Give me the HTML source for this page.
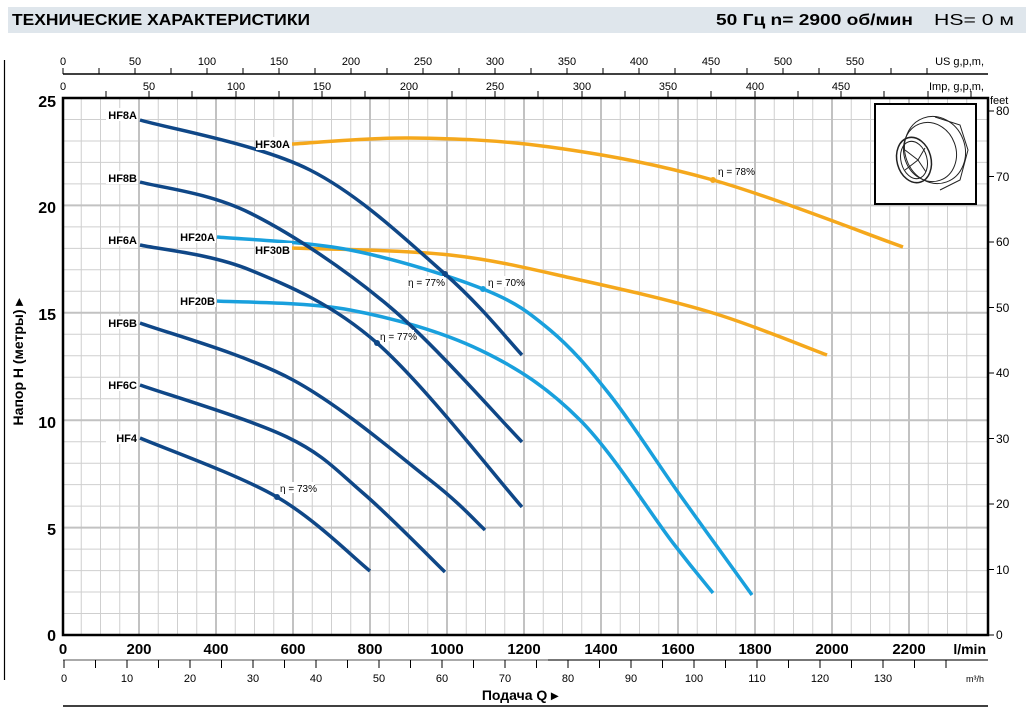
<!DOCTYPE html>
<html><head><meta charset="utf-8"><style>
html,body{margin:0;padding:0;background:#fff}
svg{display:block}
text{font-family:"Liberation Sans",Arial,sans-serif}
</style></head><body>
<svg id="ch" width="1035" height="707" viewBox="0 0 1035 707" xmlns="http://www.w3.org/2000/svg">
<rect x="8" y="7" width="1018" height="26" fill="#dfe6ec"/>
<text x="12" y="25" font-size="16" font-weight="bold" textLength="298" lengthAdjust="spacingAndGlyphs">ТЕХНИЧЕСКИЕ ХАРАКТЕРИСТИКИ</text>
<text x="716" y="25" font-size="16" font-weight="bold" textLength="197" lengthAdjust="spacingAndGlyphs">50 Гц   n= 2900  об/мин</text>
<text x="934" y="25" font-size="16" textLength="80" lengthAdjust="spacingAndGlyphs">HS= 0 м</text>

<line x1="4.5" y1="60" x2="4.5" y2="680" stroke="#000" stroke-width="1.2"/>

<path fill="none" stroke="#cfcfcf" stroke-width="1" d="M81.25 98V635M100.5 98V635M119.75 98V635M158.25 98V635M177.5 98V635M196.75 98V635M235.25 98V635M254.5 98V635M273.75 98V635M312.25 98V635M331.5 98V635M350.75 98V635M389.25 98V635M408.5 98V635M427.75 98V635M466.25 98V635M485.5 98V635M504.75 98V635M543.25 98V635M562.5 98V635M581.75 98V635M620.25 98V635M639.5 98V635M658.75 98V635M697.25 98V635M716.5 98V635M735.75 98V635M774.25 98V635M793.5 98V635M812.75 98V635M851.25 98V635M870.5 98V635M889.75 98V635M928.25 98V635M947.5 98V635M966.75 98V635
M62 613.5H988M62 592H988M62 570.6H988M62 549.1H988M62 506.1H988M62 484.6H988M62 463.2H988M62 441.7H988M62 398.7H988M62 377.2H988M62 355.8H988M62 334.3H988M62 291.3H988M62 269.8H988M62 248.4H988M62 226.9H988M62 183.9H988M62 162.4H988M62 141H988M62 119.5H988"/>
<path fill="none" stroke="#c2c2c2" stroke-width="2" d="M139 98V635M216 98V635M293 98V635M370 98V635M447 98V635M524 98V635M601 98V635M678 98V635M755 98V635M832 98V635M909 98V635M62 527.6H988M62 420.2H988M62 312.8H988M62 205.4H988"/>
<rect x="63" y="98" width="925" height="537" fill="none" stroke="#000" stroke-width="2.5"/>

<line x1="63" y1="74" x2="988" y2="74" stroke="#000" stroke-width="1.5"/>
<path stroke="#000" stroke-width="1" d="M63 68V74M99 68V74M135 68V74M171 68V74M207 68V74M243 68V74M279 68V74M315 68V74M351 68V74M387 68V74M423 68V74M459 68V74M495 68V74M531 68V74M567 68V74M603 68V74M639 68V74M675 68V74M711 68V74M747 68V74M783 68V74M819 68V74M855 68V74M891 68V74M927 68V74"/>
<g font-size="11" text-anchor="middle">
<text x="63" y="65">0</text><text x="135" y="65">50</text><text x="207" y="65">100</text><text x="279" y="65">150</text><text x="351" y="65">200</text><text x="423" y="65">250</text><text x="495" y="65">300</text><text x="567" y="65">350</text><text x="639" y="65">400</text><text x="711" y="65">450</text><text x="783" y="65">500</text><text x="855" y="65">550</text>
<text x="63" y="90">0</text><text x="149" y="90">50</text><text x="236" y="90">100</text><text x="322" y="90">150</text><text x="409" y="90">200</text><text x="495" y="90">250</text><text x="582" y="90">300</text><text x="668" y="90">350</text><text x="755" y="90">400</text><text x="841" y="90">450</text>
</g>
<text x="984" y="65" font-size="11" text-anchor="end">US g,p,m,</text>
<text x="984" y="90" font-size="11" text-anchor="end">Imp, g,p,m,</text>
<path stroke="#000" stroke-width="1" d="M106 91V98M149 91V98M192 91V98M236 91V98M279 91V98M322 91V98M365 91V98M409 91V98M452 91V98M495 91V98M538 91V98M582 91V98M625 91V98M668 91V98M711 91V98M755 91V98M798 91V98M841 91V98M884 91V98M928 91V98M971 91V98"/>

<g font-size="16" font-weight="bold" text-anchor="end">
<text x="56" y="107">25</text><text x="56" y="213">20</text><text x="56" y="320">15</text><text x="56" y="428">10</text><text x="56" y="535">5</text><text x="56" y="641">0</text>
</g>
<text transform="translate(23,362) rotate(-90)" font-size="14" font-weight="bold" text-anchor="middle">Напор H (метры) ▸</text>

<path stroke="#000" stroke-width="1" d="M988 635H994M988 569.5H994M988 504H994M988 438.5H994M988 373H994M988 307.5H994M988 242H994M988 176.5H994M988 111H994"/>
<g font-size="12">
<text x="996" y="639">0</text><text x="996" y="574">10</text><text x="996" y="508">20</text><text x="996" y="443">30</text><text x="996" y="377">40</text><text x="996" y="312">50</text><text x="996" y="246">60</text><text x="996" y="181">70</text><text x="996" y="115">80</text>
</g>
<text x="990" y="104" font-size="11">feet</text>

<g font-size="15" font-weight="bold" text-anchor="middle">
<text x="63" y="654">0</text><text x="139" y="654">200</text><text x="216" y="654">400</text><text x="293" y="654">600</text><text x="370" y="654">800</text><text x="447" y="654">1000</text><text x="524" y="654">1200</text><text x="601" y="654">1400</text><text x="678" y="654">1600</text><text x="755" y="654">1800</text><text x="832" y="654">2000</text><text x="909" y="654">2200</text>
</g>
<text x="986" y="654" font-size="14" font-weight="bold" text-anchor="end">l/min</text>

<line x1="63" y1="660" x2="548" y2="660" stroke="#aaa" stroke-width="2"/>
<line x1="548" y1="660" x2="988" y2="660" stroke="#777" stroke-width="2"/>
<path stroke="#000" stroke-width="1" d="M64 660V668M95.5 660V668M127 660V668M158.5 660V668M190 660V668M221.5 660V668M253 660V668M284.5 660V668M316 660V668M347.5 660V668M379 660V668M410.5 660V668M442 660V668M473.5 660V668M505 660V668M536.5 660V668M568 660V668M599.5 660V668M631 660V668M662.5 660V668M694 660V668M725.5 660V668M757 660V668M788.5 660V668M820 660V668M851.5 660V668M883 660V668M914.5 660V668M946 660V668"/>
<g font-size="11" text-anchor="middle">
<text x="64" y="682">0</text><text x="127" y="682">10</text><text x="190" y="682">20</text><text x="253" y="682">30</text><text x="316" y="682">40</text><text x="379" y="682">50</text><text x="442" y="682">60</text><text x="505" y="682">70</text><text x="568" y="682">80</text><text x="631" y="682">90</text><text x="694" y="682">100</text><text x="757" y="682">110</text><text x="820" y="682">120</text><text x="883" y="682">130</text>
</g>
<text x="984" y="682" font-size="9" text-anchor="end">m³/h</text>
<text x="520" y="700" font-size="14" font-weight="bold" text-anchor="middle">Подача Q ▸</text>
<line x1="63" y1="706" x2="988" y2="706" stroke="#000" stroke-width="1.5"/>

<g id="curves" fill="none" stroke-width="3.5" stroke-linejoin="round" stroke-linecap="butt">
<polyline stroke="#f5a81c" points="292,144 410,138 550,147 713,180 903,247"/>
<polyline stroke="#f5a81c" points="292,248 450,255 580,280 713,313 827,355"/>
<polyline stroke="#19a0dd" points="217,237 350,250 483,289 550,330 610,395 680,495 752,595"/>
<polyline stroke="#19a0dd" points="217,301 350,310 480,350 580,420 673,543 713,593"/>
<polyline stroke="#0f4787" points="140,120 310,170 445,274 522,355"/>
<polyline stroke="#0f4787" points="140,182 250,213 390,307 522,442"/>
<polyline stroke="#0f4787" points="140,245 250,270 377,343 522,507"/>
<polyline stroke="#0f4787" points="140,323 293,380 430,480 485,530"/>
<polyline stroke="#0f4787" points="140,385 287,437 363,493 445,572"/>
<polyline stroke="#0f4787" points="140,438 277,497 370,571"/>
</g>
<g>
<circle cx="445" cy="274" r="3" fill="#0f4787"/><circle cx="377" cy="343" r="3" fill="#0f4787"/><circle cx="277" cy="497" r="3" fill="#0f4787"/>
<circle cx="483" cy="289" r="3" fill="#19a0dd"/><circle cx="713" cy="180" r="3" fill="#f5a81c"/>
</g>
<g font-size="10">
<rect x="407" y="276" width="37" height="11" fill="#fff"/><text x="408" y="286">η = 77%</text>
<rect x="380" y="330" width="34" height="11" fill="#fff"/><text x="380" y="340">η = 77%</text>
<rect x="280" y="482" width="35" height="11" fill="#fff"/><text x="280" y="492">η = 73%</text>
<rect x="487" y="276" width="36" height="11" fill="#fff"/><text x="488" y="286">η = 70%</text>
<text x="718" y="175">η = 78%</text>
</g>
<g font-size="11" font-weight="bold" text-anchor="end">
<rect x="106" y="108" width="32" height="13" fill="#fff"/><text x="137" y="119">HF8A</text>
<rect x="106" y="171" width="32" height="13" fill="#fff"/><text x="137" y="182">HF8B</text>
<rect x="106" y="233" width="32" height="13" fill="#fff"/><text x="137" y="244">HF6A</text>
<rect x="106" y="316" width="32" height="13" fill="#fff"/><text x="137" y="327">HF6B</text>
<rect x="106" y="378" width="32" height="13" fill="#fff"/><text x="137" y="389">HF6C</text>
<rect x="106" y="431" width="32" height="13" fill="#fff"/><text x="137" y="442">HF4</text>
<rect x="178" y="230" width="38" height="13" fill="#fff"/><text x="215" y="241">HF20A</text>
<rect x="178" y="294" width="38" height="13" fill="#fff"/><text x="215" y="305">HF20B</text>
<rect x="256" y="137" width="36" height="13" fill="#fff"/><text x="290" y="148">HF30A</text>
<rect x="256" y="243" width="36" height="13" fill="#fff"/><text x="290" y="254">HF30B</text>
</g>
<rect x="875" y="104" width="101" height="100" fill="#fff" stroke="#000" stroke-width="2"/>
<g fill="none" stroke="#222" stroke-width="1">
<ellipse cx="935" cy="150" rx="30" ry="34" transform="rotate(-20 935 150)"/>
<ellipse cx="930" cy="152" rx="26" ry="30" transform="rotate(-20 930 152)"/>
<ellipse cx="914" cy="160" rx="17" ry="23" transform="rotate(-15 914 160)" stroke-width="1.5"/>
<ellipse cx="914" cy="160" rx="13" ry="19" transform="rotate(-15 914 160)"/>
<path d="M905 150L918 160L905 170M918 160L925 148M918 160L926 172"/>
<path d="M935 117L960 125L968 150L960 180L940 190"/>
</g>
</svg>
<script>
(function(){
var pls=document.querySelectorAll('#curves polyline');
for(var i=0;i<pls.length;i++){
 var pl=pls[i];
 var pts=pl.getAttribute('points').trim().split(/\s+/).map(function(s){var a=s.split(',');return [+a[0],+a[1]];});
 var d='M'+pts[0][0]+' '+pts[0][1];
 for(var k=0;k<pts.length-1;k++){
  var p0=pts[k-1]||pts[k],p1=pts[k],p2=pts[k+1],p3=pts[k+2]||p2;
  var c1x=p1[0]+(p2[0]-p0[0])/6,c1y=p1[1]+(p2[1]-p0[1])/6;
  var c2x=p2[0]-(p3[0]-p1[0])/6,c2y=p2[1]-(p3[1]-p1[1])/6;
  d+='C'+c1x.toFixed(1)+' '+c1y.toFixed(1)+' '+c2x.toFixed(1)+' '+c2y.toFixed(1)+' '+p2[0]+' '+p2[1];
 }
 var p=document.createElementNS('http://www.w3.org/2000/svg','path');
 p.setAttribute('d',d);p.setAttribute('stroke',pl.getAttribute('stroke'));
 pl.parentNode.replaceChild(p,pl);
}
})();
</script>
</body></html>
